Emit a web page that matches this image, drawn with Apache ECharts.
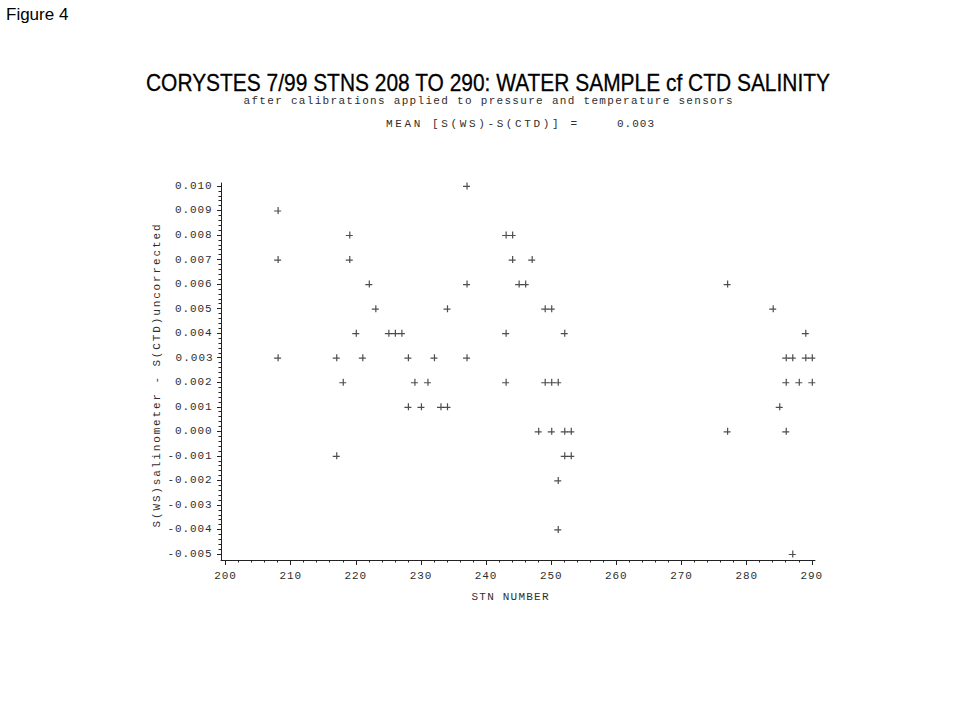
<!DOCTYPE html>
<html>
<head>
<meta charset="utf-8">
<script src="https://cdn.jsdelivr.net/npm/echarts@6/dist/echarts.min.js"></script>
<style>
html,body{margin:0;padding:0;background:#fff;}
#main{width:980px;height:711px;}
#main text{letter-spacing:0.9px;}
</style>
</head>
<body>
<div id="main"></div>
<script>
// Station numbers and salinity differences S(WS)-S(CTD)
const stations = [
  237,
  208,
  219, 243, 244,
  208, 219, 244, 247,
  222, 237, 245, 246, 277,
  223, 234, 249, 250, 284,
  220, 225, 226, 227, 243, 252, 289,
  208, 217, 221, 228, 232, 237, 286, 287, 289, 290,
  218, 229, 231, 243, 249, 250, 251, 286, 288, 290,
  228, 230, 233, 234, 285,
  248, 250, 252, 253, 277, 286,
  217, 252, 253,
  251,
  251,
  287
];
const diffs = [
  0.010,
  0.009,
  0.008, 0.008, 0.008,
  0.007, 0.007, 0.007, 0.007,
  0.006, 0.006, 0.006, 0.006, 0.006,
  0.005, 0.005, 0.005, 0.005, 0.005,
  0.004, 0.004, 0.004, 0.004, 0.004, 0.004, 0.004,
  0.003, 0.003, 0.003, 0.003, 0.003, 0.003, 0.003, 0.003, 0.003, 0.003,
  0.002, 0.002, 0.002, 0.002, 0.002, 0.002, 0.002, 0.002, 0.002, 0.002,
  0.001, 0.001, 0.001, 0.001, 0.001,
  0.000, 0.000, 0.000, 0.000, 0.000, 0.000,
  -0.001, -0.001, -0.001,
  -0.002,
  -0.004,
  -0.005
];
const xTickValues = [200, 210, 220, 230, 240, 250, 260, 270, 280, 290];
const yTickValues = [-0.005, -0.004, -0.003, -0.002, -0.001, 0.000, 0.001, 0.002, 0.003, 0.004, 0.005, 0.006, 0.007, 0.008, 0.009, 0.010];

const figureLabel = 'Figure 4';
const titleText = 'CORYSTES 7/99 STNS 208 TO 290: WATER SAMPLE cf CTD SALINITY';
const subtitleText = 'after calibrations applied to pressure and temperature sensors';
const meanLabel = 'MEAN [S(WS)-S(CTD)] =';
const meanValue = '0.003';
const xName = 'STN NUMBER';
const yName = 'S(WS)salinometer - S(CTD)uncorrected';

// minor tick positions (between the major ticks)
const xMinor = [];
for (let i = 0; i < xTickValues.length - 1; i++) {
  for (let k = 1; k < 5; k++) xMinor.push(xTickValues[i] + k * 2);
}
const yMinor = [];
for (let i = 0; i < yTickValues.length - 1; i++) {
  for (let k = 1; k < 5; k++) yMinor.push(+(yTickValues[i] + k * 0.0002).toFixed(4));
}

const ink = '#222222';
const textInk = '#2e2e2e';
const mono = 'Liberation Mono';
const fs = 11;
const X_MIN = 199.31, X_MAX = 290.49;
const Y_MIN = -0.005244, Y_MAX = 0.01012;

const chart = echarts.init(document.getElementById('main'), null, {renderer: 'svg', width: 980, height: 711});

const plus = 'path://M0,3.4H7V4.6H0ZM3.4,0H4.6V7H3.4Z';

const option = {
  animation: false,
  backgroundColor: '#ffffff',
  grid: {left: 221, right: 165, top: 183, bottom: 151, containLabel: false},
  xAxis: [
    {
      type: 'value', min: X_MIN, max: X_MAX, position: 'bottom',
      name: xName, nameLocation: 'middle', nameGap: 31,
      nameTextStyle: {fontFamily: mono, fontSize: fs, color: textInk, padding: [0, 16, 0, 0]},
      axisLine: {show: true, onZero: false, lineStyle: {color: ink, width: 1}},
      axisTick: {show: true, inside: false, length: 5, customValues: xTickValues, lineStyle: {color: ink, width: 1}},
      axisLabel: {show: true, customValues: xTickValues, margin: 10, fontFamily: mono, fontSize: fs, color: textInk},
      splitLine: {show: false}
    },
    {
      type: 'value', min: X_MIN, max: X_MAX, position: 'bottom',
      axisLine: {show: false, onZero: false},
      axisTick: {show: true, inside: false, length: 2.5, customValues: xMinor, lineStyle: {color: ink, width: 1}},
      axisLabel: {show: false},
      splitLine: {show: false}
    }
  ],
  yAxis: [
    {
      type: 'value', min: Y_MIN, max: Y_MAX, position: 'left',
      name: yName, nameLocation: 'middle', nameGap: 59, nameRotate: 90,
      nameTextStyle: {fontFamily: mono, fontSize: fs, color: textInk, padding: [0, 9, 0, 0]},
      axisLine: {show: true, onZero: false, lineStyle: {color: ink, width: 1}},
      axisTick: {show: true, inside: false, length: 4, customValues: yTickValues, lineStyle: {color: ink, width: 1}},
      axisLabel: {
        show: true, customValues: yTickValues, margin: 8.4, fontFamily: mono, fontSize: fs, color: textInk,
        formatter: function (v) { return v.toFixed(3); }
      },
      splitLine: {show: false}
    },
    {
      type: 'value', min: Y_MIN, max: Y_MAX, position: 'left',
      axisLine: {show: false, onZero: false},
      axisTick: {show: true, inside: false, length: 2.5, customValues: yMinor, lineStyle: {color: ink, width: 1}},
      axisLabel: {show: false},
      splitLine: {show: false}
    }
  ],
  series: [{
    type: 'scatter',
    xAxisIndex: 0, yAxisIndex: 0,
    data: stations.map(function (s, i) { return [s, diffs[i]]; }),
    symbol: plus,
    symbolSize: 7,
    itemStyle: {color: ink},
    emphasis: {disabled: true}
  }],
  graphic: [
    {type: 'text', x: 6, y: 14, style: {text: figureLabel, fontFamily: 'Liberation Sans', fontSize: 17, fill: '#000', align: 'left', verticalAlign: 'middle'}},
    {type: 'text', x: 488, y: 82, style: {text: titleText, fontFamily: 'Liberation Sans', fontSize: 24, fill: '#000', stroke: '#000', lineWidth: 0.3, align: 'center', verticalAlign: 'middle'}},
    {type: 'text', x: 488, y: 101, style: {text: subtitleText, fontFamily: mono, fontSize: fs, fill: textInk, align: 'center', verticalAlign: 'middle'}},
    {type: 'text', x: 386, y: 124, style: {text: meanLabel, fontFamily: mono, fontSize: fs, fill: textInk, align: 'left', verticalAlign: 'middle'}},
    {type: 'text', x: 617, y: 124, style: {text: meanValue, fontFamily: mono, fontSize: fs, fill: textInk, align: 'left', verticalAlign: 'middle'}}
  ]
};
chart.setOption(option);

function fixText() {
  document.querySelectorAll('#main text').forEach(function (t) {
    const s = t.textContent;
    const fit = function (len, mode) {
      t.style.letterSpacing = '0px';
      t.setAttribute('textLength', String(len));
      t.setAttribute('lengthAdjust', mode);
    };
    if (s === titleText) fit(684, 'spacingAndGlyphs');
    else if (s === figureLabel) t.style.letterSpacing = '0px';
    else if (s === subtitleText) fit(489, 'spacing');
    else if (s === meanLabel) fit(191, 'spacing');
    else if (s === meanValue) fit(37, 'spacing');
    else if (s === xName) fit(77, 'spacing');
    else if (s === yName) fit(303, 'spacing');
  });
}
fixText();
chart.on('finished', fixText);
setTimeout(fixText, 50);
</script>
</body>
</html>
